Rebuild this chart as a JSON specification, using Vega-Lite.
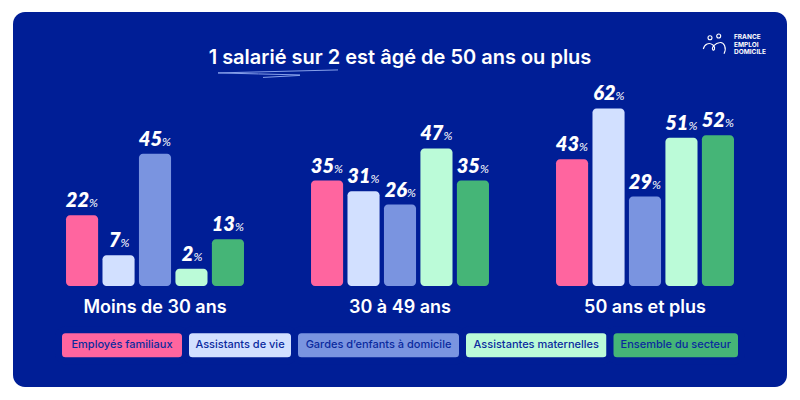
{
"$schema":"https://vega.github.io/schema/vega-lite/v6.json",
"width":774,"height":375,
"autosize":{"type":"none"},
"padding":{"left":13,"top":12,"right":13,"bottom":13},
"background":"#ffffff",
"view":{"fill":"#001e96","cornerRadius":12,"stroke":null},
"title":{"text":"1 salarié sur 2 est âgé de 50 ans ou plus","font":"Inter","fontSize":20,"fontWeight":600,"color":"#ffffff","anchor":"middle","offset":-72,"baseline":"alphabetic","frame":"group"},
"datasets":{
"barres":[
{"tranche":"Moins de 30 ans","serie":"Employés familiaux","valeur":22},
{"tranche":"Moins de 30 ans","serie":"Assistants de vie","valeur":7},
{"tranche":"Moins de 30 ans","serie":"Gardes d’enfants à domicile","valeur":45},
{"tranche":"Moins de 30 ans","serie":"Assistantes maternelles","valeur":2},
{"tranche":"Moins de 30 ans","serie":"Ensemble du secteur","valeur":13},
{"tranche":"30 à 49 ans","serie":"Employés familiaux","valeur":35},
{"tranche":"30 à 49 ans","serie":"Assistants de vie","valeur":31},
{"tranche":"30 à 49 ans","serie":"Gardes d’enfants à domicile","valeur":26},
{"tranche":"30 à 49 ans","serie":"Assistantes maternelles","valeur":47},
{"tranche":"30 à 49 ans","serie":"Ensemble du secteur","valeur":35},
{"tranche":"50 ans et plus","serie":"Employés familiaux","valeur":43},
{"tranche":"50 ans et plus","serie":"Assistants de vie","valeur":62},
{"tranche":"50 ans et plus","serie":"Gardes d’enfants à domicile","valeur":29},
{"tranche":"50 ans et plus","serie":"Assistantes maternelles","valeur":51},
{"tranche":"50 ans et plus","serie":"Ensemble du secteur","valeur":52}
],
"legende":[
{"serie":"Employés familiaux","rang":1,"largeur":127},
{"serie":"Assistants de vie","rang":2,"largeur":109},
{"serie":"Gardes d’enfants à domicile","rang":3,"largeur":168},
{"serie":"Assistantes maternelles","rang":4,"largeur":147.5},
{"serie":"Ensemble du secteur","rang":5,"largeur":131.5}
]
},
"resolve":{"scale":{"x":"independent"},"axis":{"x":"independent"}},
"layer":[
{
"data":{"name":"barres"},
"encoding":{
"x":{"field":"tranche","type":"nominal","sort":null,
"scale":{"domain":["Moins de 30 ans","30 à 49 ans","50 ans et plus"],"paddingInner":0,"paddingOuter":0.0796},
"axis":{"title":null,"domain":false,"ticks":false,"labelAngle":0,"labelColor":"#ffffff","labelFont":"Inter","labelFontSize":18,"labelFontWeight":600,"labelBaseline":"middle","labelPadding":0,"offset":-80,"labelLimit":0,"grid":false}},
"xOffset":{"field":"serie","type":"nominal","sort":null,
"scale":{"domain":["Employés familiaux","Assistants de vie","Gardes d’enfants à domicile","Assistantes maternelles","Ensemble du secteur"],"paddingInner":0.12,"paddingOuter":0.919}},
"y":{"field":"valeur","type":"quantitative","scale":{"domain":[-42.33,98.12],"nice":false,"zero":false},"axis":null}
},
"layer":[
{"mark":{"type":"bar","cornerRadius":4},
"encoding":{"y2":{"datum":-4.5},
"color":{"field":"serie","type":"nominal","legend":null,
"scale":{"domain":["Employés familiaux","Assistants de vie","Gardes d’enfants à domicile","Assistantes maternelles","Ensemble du secteur"],"range":["#ff659f","#d2e0ff","#7a94e0","#bbfbd8","#45b577"]}}}},
{"transform":[{"filter":"datum.valeur>=10"}],
"mark":{"type":"text","font":"Lato","fontSize":20,"fontWeight":800,"fontStyle":"italic","color":"#ffffff","align":"right","baseline":"alphabetic","dx":7,"dy":-8},
"encoding":{"text":{"field":"valeur","type":"quantitative"}}},
{"transform":[{"filter":"datum.valeur>=10"}],
"mark":{"type":"text","font":"Lato","fontSize":12,"fontStyle":"italic","color":"#ffffff","align":"left","baseline":"alphabetic","dx":7,"dy":-8},
"encoding":{"text":{"value":"%"}}},
{"transform":[{"filter":"datum.valeur<10"}],
"mark":{"type":"text","font":"Lato","fontSize":20,"fontWeight":800,"fontStyle":"italic","color":"#ffffff","align":"right","baseline":"alphabetic","dx":2,"dy":-8},
"encoding":{"text":{"field":"valeur","type":"quantitative"}}},
{"transform":[{"filter":"datum.valeur<10"}],
"mark":{"type":"text","font":"Lato","fontSize":12,"fontStyle":"italic","color":"#ffffff","align":"left","baseline":"alphabetic","dx":2,"dy":-8},
"encoding":{"text":{"value":"%"}}}
]
},
{
"layer":[
{"data":{"name":"legende"},
"transform":[{"stack":"largeur","sort":[{"field":"rang"}],"as":["debut","fin"]}],
"mark":{"type":"rect","cornerRadius":7,"stroke":"#001e96","strokeWidth":7},
"encoding":{
"x":{"field":"debut","type":"quantitative","scale":{"domain":[-45.5,728.5],"nice":false,"zero":false},"axis":null},
"x2":{"field":"fin"},
"y":{"datum":-20.9,"type":"quantitative","axis":null,"scale":{"domain":[-42.33,98.12],"nice":false,"zero":false}},"y2":{"datum":-32.5},
"color":{"field":"serie","type":"nominal","legend":null}}},
{"data":{"name":"legende"},
"transform":[{"stack":"largeur","sort":[{"field":"rang"}],"as":["debut","fin"]},{"calculate":"(datum.debut+datum.fin)/2","as":"milieu"}],
"mark":{"type":"text","font":"Inter","fontSize":11,"fontWeight":500,"color":"#0a2a9e","baseline":"middle"},
"encoding":{"x":{"field":"milieu","type":"quantitative","axis":null},"y":{"datum":-26.7,"type":"quantitative","axis":null},"text":{"field":"serie"}}},
{"data":{"values":[{}]},
"mark":{"type":"text","font":"Inter","fontSize":6.5,"fontWeight":700,"color":"#ffffff","align":"left","baseline":"middle","lineHeight":7.4,"text":["FRANCE","EMPLOI","DOMICILE"]},
"encoding":{"x":{"datum":675.5,"type":"quantitative","axis":null},"y":{"datum":88.7,"type":"quantitative","axis":null}}},
{"data":{"values":[{}]},
"mark":{"type":"point","shape":"M-60 0 L60 -3 M-60 0 Q-20 1 22 2 M-15 4.5 L22 2.5","size":4,"filled":false,"stroke":"#86a0ea","strokeWidth":1,"opacity":1},
"encoding":{"x":{"datum":219.5,"type":"quantitative","axis":null},"y":{"datum":75.3,"type":"quantitative","axis":null}}},
{"data":{"values":[{}]},
"mark":{"type":"point","shape":"M-6,-7.3a2,2 0 1,0 4,0a2,2 0 1,0 -4,0M2.7,-9a2,2 0 1,0 4,0a2,2 0 1,0 -4,0M-10.7,4C-9.5,-1 -5,-3 -1,0C2,3 0,6 -1,5C-3,3 1,-2 6,-2.5C10,-3 13,3 10,8.7","size":4,"filled":false,"stroke":"#ffffff","strokeWidth":1.1,"opacity":1},
"encoding":{"x":{"datum":655.5,"type":"quantitative","axis":null},"y":{"datum":85.76,"type":"quantitative","axis":null}}}
]
}
]
}
